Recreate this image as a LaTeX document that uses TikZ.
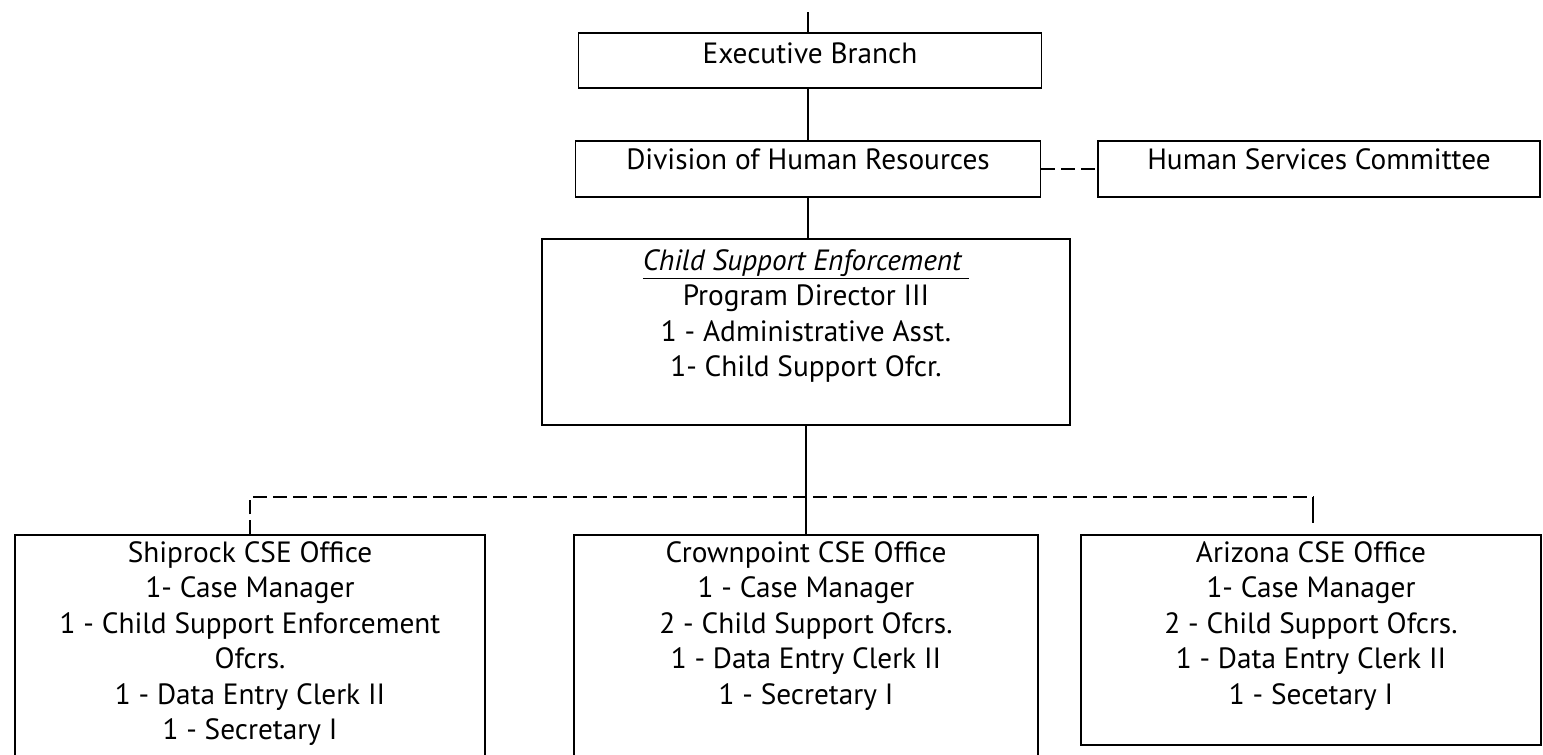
\documentclass[tikz,border=0pt]{standalone}
\usepackage{fontspec}
\setmainfont{PT Sans}
\usepackage{tikz}
\usetikzlibrary{positioning}

\begin{document}
\begin{tikzpicture}[x=1pt,y=-1pt,
  box/.style={draw,line width=1.5pt,inner sep=0pt},
  txt/.style={align=center,inner sep=0pt,font=\fontsize{29.3}{35.5}\selectfont},
  link/.style={line width=1.5pt},
  broken/.style={line width=1.5pt,dash pattern=on 14pt off 6pt}]
\useasboundingbox (0,0) rectangle (1543,755);
\clip (0,0) rectangle (1543,755);

% top of the chart
\coordinate (top) at (808,12);
\node[box,minimum width=463pt,minimum height=55pt] (exec) at (810,60.5) {};
\node[txt,below=10pt of exec.north] (exect) {Executive Branch};

\node[box,minimum width=465pt,minimum height=56pt] (div) at (808,169) {};
\node[txt,below=8pt of div.north] (divt) {Division of Human Resources};
\node[box,minimum width=442pt,minimum height=56pt] (hsc) at (1319,169) {};
\node[txt,below=8pt of hsc.north] (hsct) {Human Services Committee};

\node[box,minimum width=528pt,minimum height=186pt] (cse) at (806,332) {};
\node[txt,below=11pt of cse.north] (cset) {\underline{\itshape Child Support Enforcement\ }\\
  Program Director III\\ 1 - Administrative Asst.\\ 1- Child Support Ofcr.};

% field offices
\node[box,minimum width=470pt,minimum height=240pt] (ship) at (250,655) {};
\node[txt,below=7pt of ship.north] (shipt) {Shiprock CSE Office\\ 1- Case Manager\\
  1 - Child Support Enforcement\\ Ofcrs.\\ 1 - Data Entry Clerk II\\ 1 - Secretary I};
\node[box,minimum width=464pt,minimum height=240pt] (crown) at (806,655) {};
\node[txt,below=7pt of crown.north] (crownt) {Crownpoint CSE Office\\ 1 - Case Manager\\
  2 - Child Support Ofcrs.\\ 1 - Data Entry Clerk II\\ 1 - Secretary I};
\node[box,minimum width=460pt,minimum height=210pt] (ariz) at (1311,640) {};
\node[txt,below=7pt of ariz.north] (arizt) {Arizona CSE Office\\ 1- Case Manager\\
  2 - Child Support Ofcrs.\\ 1 - Data Entry Clerk II\\ 1 - Secetary I};

% connectors
\coordinate (busr) at (1313,497);
\coordinate (stub) at (1313,523);
\draw[link] (top) -- (top |- exec.north);
\draw[link] (exec.south -| div) -- (div);
\draw[broken] (div) -- (hsc);
\draw[link] (div) -- (div |- cse.north);
\draw[link] (cse) -- (crown);
\draw[broken] (ship.north) -- (ship.north |- busr) -- (busr);
\draw[link] (busr) -- (stub);
\end{tikzpicture}
\end{document}
